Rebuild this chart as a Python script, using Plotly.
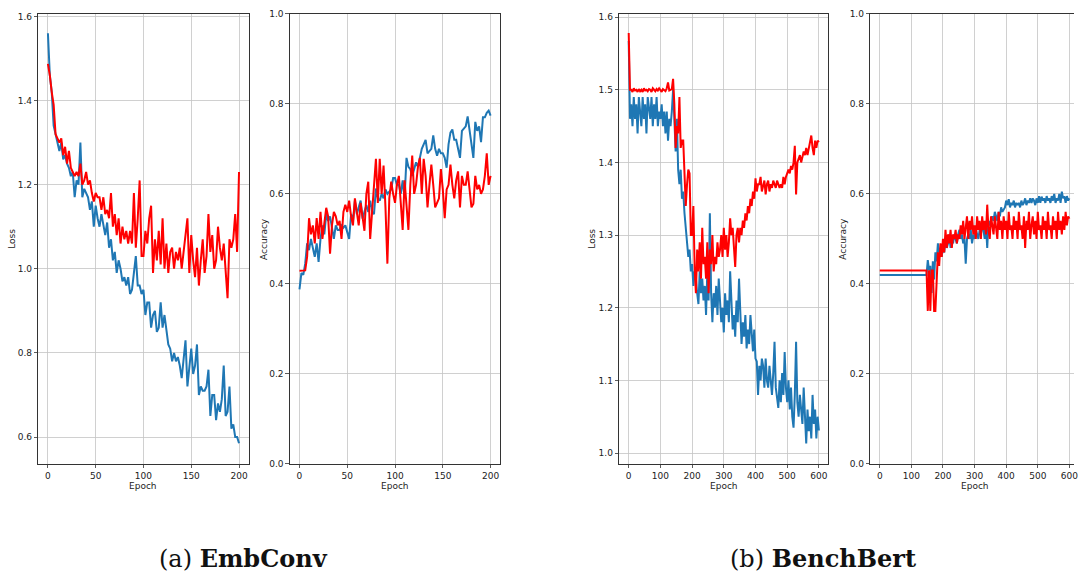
import plotly.graph_objects as go

# ---------------- data ----------------
epochs_a = list(range(0, 201, 2))   # EmbConv epochs (sampled every 2)
epochs_b = list(range(0, 601, 4))   # BenchBert epochs (sampled every 4)

emb_train_loss = [
    1.56, 1.46, 1.42, 1.34, 1.32, 1.30, 1.28, 1.30, 1.26, 1.27,
    1.25, 1.24, 1.22, 1.23, 1.17, 1.21, 1.20, 1.30, 1.17, 1.19,
    1.18, 1.17, 1.14, 1.16, 1.10, 1.15, 1.12, 1.10, 1.13, 1.10,
    1.08, 1.11, 1.05, 1.07, 1.02, 1.04, 0.99, 1.02, 1.00, 0.97,
    0.98, 0.96, 0.98, 0.94, 0.95, 0.99, 1.03, 0.96, 0.96, 0.94,
    0.95, 0.89, 0.92, 0.92, 0.86, 0.89, 0.90, 0.85, 0.86, 0.92,
    0.86, 0.89, 0.86, 0.82, 0.81, 0.78, 0.80, 0.78, 0.79, 0.77,
    0.74, 0.78, 0.83, 0.72, 0.76, 0.81, 0.75, 0.77, 0.82, 0.70,
    0.72, 0.71, 0.71, 0.72, 0.76, 0.65, 0.70, 0.70, 0.64, 0.68,
    0.66, 0.69, 0.77, 0.65, 0.66, 0.72, 0.62, 0.63, 0.60, 0.60,
    0.585,
]
emb_val_loss = [
    1.487, 1.46, 1.42, 1.39, 1.32, 1.31, 1.30, 1.31, 1.27, 1.29,
    1.25, 1.28, 1.24, 1.23, 1.22, 1.23, 1.22, 1.25, 1.20, 1.21,
    1.23, 1.20, 1.21, 1.18, 1.16, 1.18, 1.17, 1.17, 1.14, 1.17,
    1.13, 1.14, 1.12, 1.18, 1.10, 1.13, 1.08, 1.12, 1.06, 1.10,
    1.07, 1.09, 1.06, 1.09, 1.06, 1.18, 1.05, 1.12, 1.21, 1.03,
    1.03, 1.09, 1.06, 1.12, 1.15, 0.99, 1.07, 1.02, 1.09, 1.01,
    1.12, 1.00, 1.06, 0.99, 1.04, 1.05, 1.00, 1.04, 1.02, 1.05,
    1.00, 1.04, 1.08, 1.12, 0.99, 1.08, 1.02, 0.98, 1.05, 0.96,
    1.02, 1.07, 0.99, 1.03, 1.13, 1.04, 1.08, 1.00, 1.02, 1.10,
    1.05, 1.02, 1.06, 1.00, 0.93, 1.07, 1.05, 1.07, 1.13, 1.04,
    1.23,
]
emb_train_acc = [
    0.388, 0.424, 0.42, 0.445, 0.49, 0.475, 0.50, 0.48, 0.46, 0.49,
    0.449, 0.50, 0.53, 0.51, 0.555, 0.54, 0.55, 0.525, 0.50, 0.53,
    0.52, 0.52, 0.53, 0.525, 0.53, 0.515, 0.50, 0.555, 0.54, 0.585,
    0.555, 0.57, 0.585, 0.545, 0.56, 0.575, 0.56, 0.585, 0.56, 0.555,
    0.612, 0.59, 0.585, 0.60, 0.59, 0.61, 0.60, 0.605, 0.61, 0.635,
    0.635, 0.62, 0.62, 0.60, 0.63, 0.59, 0.68, 0.66, 0.655, 0.64,
    0.657, 0.67, 0.66, 0.68, 0.70, 0.71, 0.72, 0.69, 0.695, 0.70,
    0.73, 0.70, 0.685, 0.70, 0.69, 0.69, 0.68, 0.658, 0.71, 0.736,
    0.743, 0.72, 0.72, 0.70, 0.68, 0.74, 0.745, 0.75, 0.772, 0.74,
    0.72, 0.68, 0.76, 0.74, 0.75, 0.715, 0.77, 0.77, 0.78, 0.785,
    0.774,
]
emb_val_acc = [
    0.429, 0.429, 0.429, 0.43, 0.46, 0.546, 0.51, 0.53, 0.49, 0.546,
    0.50, 0.56, 0.50, 0.54, 0.569, 0.55, 0.467, 0.53, 0.56, 0.55,
    0.53, 0.54, 0.50, 0.56, 0.576, 0.56, 0.585, 0.55, 0.53, 0.59,
    0.56, 0.53, 0.58, 0.55, 0.518, 0.60, 0.627, 0.50, 0.56, 0.62,
    0.678, 0.58, 0.678, 0.60, 0.663, 0.57, 0.445, 0.59, 0.627, 0.60,
    0.58, 0.62, 0.64, 0.58, 0.52, 0.63, 0.58, 0.52, 0.62, 0.685,
    0.60, 0.62, 0.66, 0.68, 0.60, 0.678, 0.64, 0.57, 0.62, 0.665,
    0.62, 0.57, 0.58, 0.59, 0.655, 0.61, 0.546, 0.61, 0.62, 0.665,
    0.62, 0.59, 0.63, 0.65, 0.57, 0.64, 0.62, 0.62, 0.65, 0.61,
    0.57, 0.578, 0.64, 0.61, 0.62, 0.60, 0.61, 0.64, 0.69, 0.62,
    0.64,
]

bb_train_loss = [
    1.567, 1.46, 1.48, 1.45, 1.49, 1.46, 1.48, 1.44, 1.49, 1.47,
    1.45, 1.49, 1.46, 1.48, 1.44, 1.49, 1.47, 1.46, 1.49, 1.45,
    1.48, 1.46, 1.49, 1.45, 1.47, 1.46, 1.48, 1.45, 1.47, 1.44,
    1.47, 1.43, 1.46, 1.45, 1.47, 1.50, 1.46, 1.415, 1.46, 1.39,
    1.37, 1.39, 1.35, 1.36, 1.33, 1.31, 1.30, 1.27, 1.28, 1.25,
    1.26, 1.23, 1.25, 1.24, 1.22, 1.205, 1.25, 1.22, 1.24, 1.21,
    1.23, 1.19, 1.25, 1.21, 1.33, 1.22, 1.18, 1.22, 1.20, 1.23,
    1.19, 1.24, 1.21, 1.18, 1.20, 1.166, 1.22, 1.19, 1.21, 1.18,
    1.25, 1.20, 1.17, 1.19, 1.16, 1.21, 1.18, 1.24, 1.19, 1.15,
    1.18, 1.16, 1.19, 1.144, 1.17, 1.15, 1.19, 1.16, 1.14, 1.17,
    1.13, 1.126, 1.08, 1.12, 1.10, 1.13, 1.12, 1.09, 1.13, 1.10,
    1.09, 1.12, 1.10, 1.08, 1.11, 1.153, 1.09, 1.07, 1.062, 1.10,
    1.07, 1.11, 1.08, 1.139, 1.09, 1.07, 1.10, 1.06, 1.09, 1.05,
    1.035, 1.08, 1.153, 1.07, 1.05, 1.08, 1.06, 1.04, 1.09, 1.05,
    1.013, 1.06, 1.03, 1.05, 1.02, 1.08, 1.04, 1.06, 1.02, 1.05,
    1.031,
]
bb_val_loss = [
    1.578, 1.50, 1.50, 1.497, 1.502, 1.499, 1.50, 1.497, 1.501, 1.498,
    1.50, 1.497, 1.502, 1.499, 1.50, 1.498, 1.501, 1.50, 1.497, 1.502,
    1.50, 1.498, 1.501, 1.499, 1.502, 1.50, 1.497, 1.501, 1.50, 1.498,
    1.502, 1.51, 1.499, 1.50, 1.501, 1.515, 1.48, 1.42, 1.45, 1.44,
    1.49, 1.42, 1.43, 1.43, 1.38, 1.34, 1.37, 1.39, 1.385, 1.30,
    1.30, 1.34, 1.256, 1.22, 1.28, 1.25, 1.29, 1.24, 1.31, 1.26,
    1.27, 1.24, 1.29, 1.22, 1.28, 1.26, 1.30, 1.25, 1.27, 1.26,
    1.29, 1.27, 1.28, 1.30, 1.27, 1.31, 1.28, 1.30, 1.27, 1.29,
    1.323, 1.30, 1.31, 1.28, 1.256, 1.30, 1.31, 1.29, 1.31, 1.30,
    1.32, 1.31, 1.33, 1.32, 1.34, 1.33, 1.35, 1.34, 1.36, 1.35,
    1.378, 1.36, 1.37, 1.37, 1.38, 1.36, 1.37, 1.375, 1.356, 1.37,
    1.375, 1.36, 1.37, 1.365, 1.375, 1.37, 1.365, 1.375, 1.37, 1.365,
    1.37, 1.365, 1.38, 1.37, 1.38, 1.385, 1.39, 1.385, 1.395, 1.39,
    1.40, 1.423, 1.356, 1.40, 1.405, 1.41, 1.40, 1.41, 1.415, 1.41,
    1.42, 1.41, 1.42, 1.425, 1.437, 1.42, 1.41, 1.43, 1.42, 1.43,
    1.428,
]
bb_train_acc = [
    0.42, 0.42, 0.42, 0.42, 0.42, 0.42, 0.42, 0.42, 0.42, 0.42,
    0.42, 0.42, 0.42, 0.42, 0.42, 0.42, 0.42, 0.42, 0.42, 0.42,
    0.42, 0.42, 0.42, 0.42, 0.42, 0.42, 0.42, 0.42, 0.42, 0.42,
    0.42, 0.42, 0.42, 0.42, 0.42, 0.42, 0.42, 0.42, 0.453, 0.43,
    0.44, 0.38, 0.45, 0.41, 0.47, 0.45, 0.49, 0.47, 0.48, 0.46,
    0.48, 0.47, 0.50, 0.48, 0.49, 0.51, 0.48, 0.50, 0.49, 0.51,
    0.50, 0.49, 0.51, 0.52, 0.50, 0.51, 0.49, 0.50, 0.445, 0.50,
    0.51, 0.50, 0.52, 0.49, 0.51, 0.50, 0.52, 0.51, 0.50, 0.52,
    0.51, 0.53, 0.52, 0.50, 0.53, 0.48, 0.54, 0.53, 0.54, 0.55,
    0.54, 0.56, 0.55, 0.54, 0.56, 0.55, 0.57, 0.56, 0.565, 0.57,
    0.585, 0.575, 0.588, 0.57, 0.58, 0.575, 0.585, 0.57, 0.58, 0.575,
    0.58, 0.57, 0.585, 0.575, 0.58, 0.59, 0.575, 0.585, 0.58, 0.59,
    0.58, 0.59, 0.585, 0.575, 0.59, 0.58, 0.595, 0.58, 0.594, 0.585,
    0.59, 0.58, 0.595, 0.585, 0.59, 0.58, 0.595, 0.585, 0.60, 0.58,
    0.59, 0.585, 0.60, 0.58, 0.605, 0.59, 0.595, 0.58, 0.595, 0.585,
    0.59,
]
bb_val_acc = [
    0.43, 0.43, 0.43, 0.43, 0.43, 0.43, 0.43, 0.43, 0.43, 0.43,
    0.43, 0.43, 0.43, 0.43, 0.43, 0.43, 0.43, 0.43, 0.43, 0.43,
    0.43, 0.43, 0.43, 0.43, 0.43, 0.43, 0.43, 0.43, 0.43, 0.43,
    0.43, 0.43, 0.43, 0.43, 0.43, 0.43, 0.43, 0.43, 0.34, 0.43,
    0.34, 0.43, 0.43, 0.34, 0.34, 0.43, 0.47, 0.44, 0.49, 0.46,
    0.50, 0.47, 0.52, 0.48, 0.51, 0.49, 0.52, 0.48, 0.51, 0.50,
    0.52, 0.49, 0.51, 0.50, 0.53, 0.51, 0.54, 0.50, 0.52, 0.55,
    0.50, 0.54, 0.52, 0.55, 0.51, 0.53, 0.50, 0.55, 0.52, 0.54,
    0.50, 0.55, 0.52, 0.54, 0.51, 0.576, 0.52, 0.50, 0.55, 0.53,
    0.51, 0.55, 0.53, 0.50, 0.56, 0.52, 0.54, 0.50, 0.55, 0.52,
    0.54, 0.50, 0.56, 0.52, 0.53, 0.50, 0.55, 0.52, 0.54, 0.50,
    0.56, 0.52, 0.53, 0.50, 0.55, 0.48, 0.54, 0.52, 0.56, 0.50,
    0.53, 0.55, 0.51, 0.54, 0.50, 0.56, 0.52, 0.53, 0.50, 0.55,
    0.52, 0.54, 0.50, 0.56, 0.52, 0.53, 0.50, 0.55, 0.52, 0.54,
    0.50, 0.56, 0.52, 0.54, 0.51, 0.55, 0.52, 0.56, 0.53, 0.55,
    0.545,
]

for name, arr, ep in [("emb_train_loss", emb_train_loss, epochs_a), ("emb_val_loss", emb_val_loss, epochs_a),
                      ("emb_train_acc", emb_train_acc, epochs_a), ("emb_val_acc", emb_val_acc, epochs_a),
                      ("bb_train_loss", bb_train_loss, epochs_b), ("bb_val_loss", bb_val_loss, epochs_b),
                      ("bb_train_acc", bb_train_acc, epochs_b), ("bb_val_acc", bb_val_acc, epochs_b)]:
    assert len(arr) == len(ep), (name, len(arr), len(ep))

captions = ["(a) <b>EmbConv</b>", "(b) <b>BenchBert</b>"]
y_titles = ["Loss", "Accuracy", "Loss", "Accuracy"]
x_title = "Epoch"

# ---------------- style / layout ----------------
W, H = 1078, 578
BLUE = "#1f77b4"
RED = "#ff0000"
TEXTC = "#222222"
TICKFONT = dict(family="DejaVu Sans", size=9, color=TEXTC)

def px_x(p):
    return p / W

def px_y(p):
    return 1 - p / H

panels = [
    # (x-domain px, x-range, y-range, y-dtick, x-dtick)
    ((38.5, 249.5), [-10, 210], [0.536, 1.606], 0.2, 50),
    ((291.0, 502.0), [-10, 210], [0.0, 1.0], 0.2, 50),
    ((621.5, 831.5), [-30, 630], [0.985, 1.6045], 0.1, 100),
    ((873.5, 1078.0), [-30, 614.5], [0.0, 1.0], 0.2, 100),
]
y_dom = [px_y(467), px_y(9)]

fig = go.Figure()

series = [
    (epochs_a, emb_train_loss, emb_val_loss),
    (epochs_a, emb_train_acc, emb_val_acc),
    (epochs_b, bb_train_loss, bb_val_loss),
    (epochs_b, bb_train_acc, bb_val_acc),
]

layout_axes = {}
for i, ((xd, xr, yr, ydt, xdt), (ep, blue_s, red_s)) in enumerate(zip(panels, series), start=1):
    xa = "x" if i == 1 else f"x{i}"
    ya = "y" if i == 1 else f"y{i}"
    fig.add_trace(go.Scatter(x=ep, y=blue_s, mode="lines", line=dict(color=BLUE, width=2),
                             xaxis=xa, yaxis=ya, showlegend=False, hoverinfo="skip"))
    fig.add_trace(go.Scatter(x=ep, y=red_s, mode="lines", line=dict(color=RED, width=2),
                             xaxis=xa, yaxis=ya, showlegend=False, hoverinfo="skip"))
    common = dict(showgrid=True, gridcolor="#c4c4c4", gridwidth=0.8, zeroline=False,
                  showline=True, linecolor="#333333", linewidth=1,
                  ticks="outside", ticklen=3.5, tickwidth=0.8, tickcolor="#333333",
                  tickfont=TICKFONT)
    last = (i == 4)
    layout_axes["xaxis" if i == 1 else f"xaxis{i}"] = dict(
        domain=[px_x(xd[0]), px_x(xd[1])], range=xr, anchor=ya, dtick=xdt, tick0=0,
        mirror=True, ticklabeloverflow="allow", **common)
    layout_axes["yaxis" if i == 1 else f"yaxis{i}"] = dict(
        domain=y_dom, range=yr, anchor=xa, dtick=ydt, tick0=0, tickformat=".1f",
        mirror=(not last), **common)

fig.update_layout(**layout_axes)

annotations = []
# y titles
ytitle_x = [12, 265, 594, 846]
for xt, t in zip(ytitle_x, y_titles):
    annotations.append(dict(text=t, x=px_x(xt), y=px_y(238), xref="paper", yref="paper",
                            textangle=-90, showarrow=False, xanchor="center", yanchor="middle",
                            font=dict(family="DejaVu Sans", size=9, color=TEXTC)))
# x titles (centred under each panel's full axis)
xtitle_x = [144.0, 396.5, 726.5, 978.5]
for cx in xtitle_x:
    annotations.append(dict(text=x_title, x=px_x(cx), y=px_y(489), xref="paper", yref="paper",
                            showarrow=False, xanchor="center", yanchor="middle",
                            font=dict(family="DejaVu Sans", size=9, color=TEXTC)))
# captions
for cap, cx in zip(captions, [244, 826.5]):
    annotations.append(dict(text=cap, x=px_x(cx), y=px_y(563), xref="paper", yref="paper",
                            showarrow=False, xanchor="center", yanchor="middle",
                            font=dict(family="DejaVu Serif", size=24, color="#111111")))

fig.update_layout(
    width=W, height=H,
    margin=dict(l=0, r=0, t=0, b=0),
    paper_bgcolor="white", plot_bgcolor="white",
    showlegend=False,
    annotations=annotations,
)

fig.write_html("out.html",
               config={"displayModeBar": False, "staticPlot": True},
               post_script="document.body.style.margin='0';document.body.style.overflow='hidden';")
